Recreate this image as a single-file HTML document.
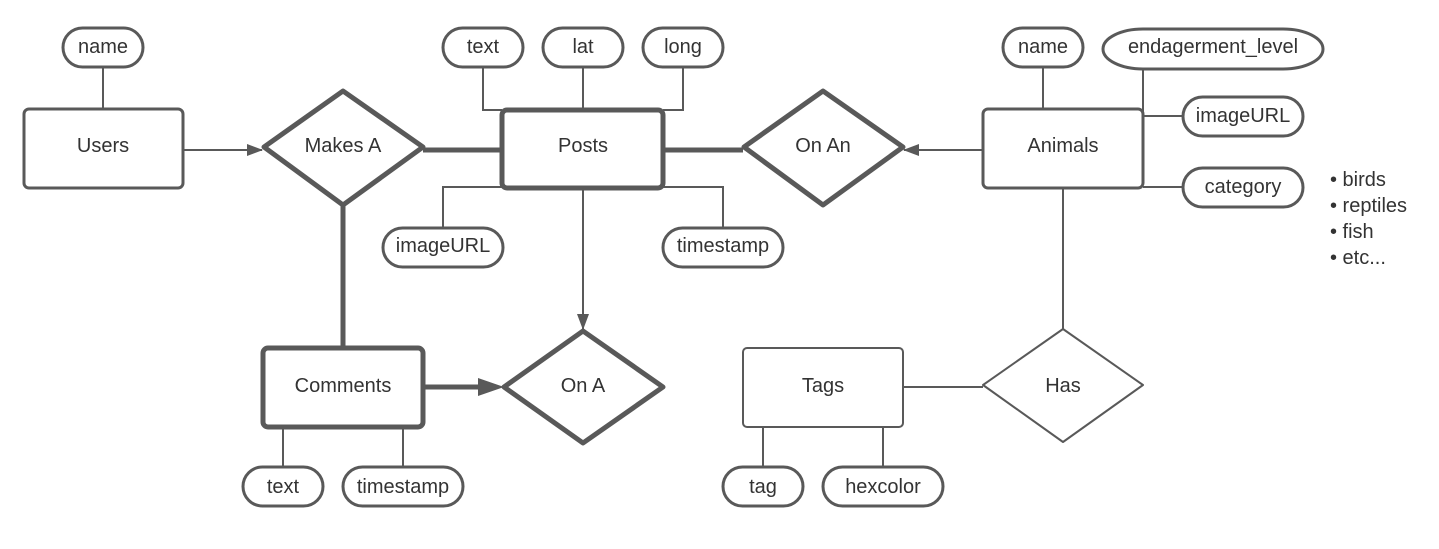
<!DOCTYPE html>
<html><head><meta charset="utf-8"><style>
html,body{margin:0;padding:0;background:#fff;}
text{font-family:"Liberation Sans",sans-serif;font-size:20px;fill:#333;text-anchor:middle;dominant-baseline:central;}
</style></head><body>
<svg width="1439" height="544" viewBox="0 0 1439 544" xmlns="http://www.w3.org/2000/svg">
<defs>
<marker id="a" markerWidth="16" markerHeight="12" refX="15" refY="6" orient="auto" markerUnits="userSpaceOnUse"><path d="M0,0 L16,6 L0,12 z" fill="#595959"/></marker>
<marker id="b" markerWidth="26" markerHeight="18" refX="25" refY="9" orient="auto" markerUnits="userSpaceOnUse"><path d="M0,0 L26,9 L0,18 z" fill="#595959"/></marker>
</defs>
<g fill="none" stroke="#595959" stroke-width="2">
<path d="M103 67V109"/>
<path d="M183 150H262" marker-end="url(#a)"/>
<path d="M483 67V110H502"/>
<path d="M583 67V109"/>
<path d="M683 67V110H663"/>
<path d="M502 187H443V228"/>
<path d="M663 187H723V228"/>
<path d="M583 188V329" marker-end="url(#a)"/>
<path d="M983 150H904" marker-end="url(#a)"/>
<path d="M1043 67V109"/>
<path d="M1143 69V116H1183"/>
<path d="M1143 187H1183"/>
<path d="M1063 188V329"/>
<path d="M903 387H983"/>
<path d="M763 427V467M883 427V467"/>
<path d="M283 427V467M403 427V467"/>
<path d="M423 150H502M663 150H743M343 205V347" stroke-width="5"/>
<path d="M423 387H478" stroke-width="5"/>
<path d="M423 387H503" stroke-width="0.01" marker-end="url(#b)"/>
<rect x="63" y="28" width="80" height="39" rx="19.5" fill="#fff" stroke-width="3"/>
<rect x="443" y="28" width="80" height="39" rx="19.5" fill="#fff" stroke-width="3"/>
<rect x="543" y="28" width="80" height="39" rx="19.5" fill="#fff" stroke-width="3"/>
<rect x="643" y="28" width="80" height="39" rx="19.5" fill="#fff" stroke-width="3"/>
<rect x="383" y="228" width="120" height="39" rx="19.5" fill="#fff" stroke-width="3"/>
<rect x="663" y="228" width="120" height="39" rx="19.5" fill="#fff" stroke-width="3"/>
<rect x="1003" y="28" width="80" height="39" rx="19.5" fill="#fff" stroke-width="3"/>
<rect x="1103" y="29" width="220" height="40" rx="40" ry="20" fill="#fff" stroke-width="3"/>
<rect x="1183" y="97" width="120" height="39" rx="19.5" fill="#fff" stroke-width="3"/>
<rect x="1183" y="168" width="120" height="39" rx="19.5" fill="#fff" stroke-width="3"/>
<rect x="723" y="467" width="80" height="39" rx="19.5" fill="#fff" stroke-width="3"/>
<rect x="823" y="467" width="120" height="39" rx="19.5" fill="#fff" stroke-width="3"/>
<rect x="243" y="467" width="80" height="39" rx="19.5" fill="#fff" stroke-width="3"/>
<rect x="343" y="467" width="120" height="39" rx="19.5" fill="#fff" stroke-width="3"/>
<rect x="24" y="109" width="159" height="79" rx="5" fill="#fff" stroke-width="3"/>
<rect x="502" y="110" width="161" height="78" rx="5" fill="#fff" stroke-width="5"/>
<rect x="983" y="109" width="160" height="79" rx="5" fill="#fff" stroke-width="3"/>
<rect x="743" y="348" width="160" height="79" rx="4" fill="#fff" stroke-width="2"/>
<rect x="263" y="348" width="160" height="79" rx="5" fill="#fff" stroke-width="5"/>
<path d="M343 91L423 147L343 205L264 147Z" fill="#fff" stroke-width="5" stroke-linejoin="round"/>
<path d="M823 91L903 147L823 205L744 147Z" fill="#fff" stroke-width="5" stroke-linejoin="round"/>
<path d="M583 331L663 387L583 443L504 387Z" fill="#fff" stroke-width="5" stroke-linejoin="round"/>
<path d="M1063 329L1143 385L1063 442L983 385Z" fill="#fff" stroke-width="2" stroke-linejoin="round"/>
</g>
<text x="103" y="47">name</text>
<text x="483" y="47">text</text>
<text x="583" y="47">lat</text>
<text x="683" y="47">long</text>
<text x="443" y="246">imageURL</text>
<text x="723" y="246">timestamp</text>
<text x="1043" y="47">name</text>
<text x="1213" y="47">endagerment_level</text>
<text x="1243" y="116">imageURL</text>
<text x="1243" y="187">category</text>
<text x="763" y="487">tag</text>
<text x="883" y="487">hexcolor</text>
<text x="283" y="487">text</text>
<text x="403" y="487">timestamp</text>
<text x="103" y="146">Users</text>
<text x="583" y="146">Posts</text>
<text x="1063" y="146">Animals</text>
<text x="823" y="386">Tags</text>
<text x="343" y="386">Comments</text>
<text x="343" y="146">Makes A</text>
<text x="823" y="146">On An</text>
<text x="583" y="386">On A</text>
<text x="1063" y="386">Has</text>
<text x="1330" y="180" style="text-anchor:start">• birds</text>
<text x="1330" y="206" style="text-anchor:start">• reptiles</text>
<text x="1330" y="232" style="text-anchor:start">• fish</text>
<text x="1330" y="258" style="text-anchor:start">• etc...</text>
</svg>
</body></html>
